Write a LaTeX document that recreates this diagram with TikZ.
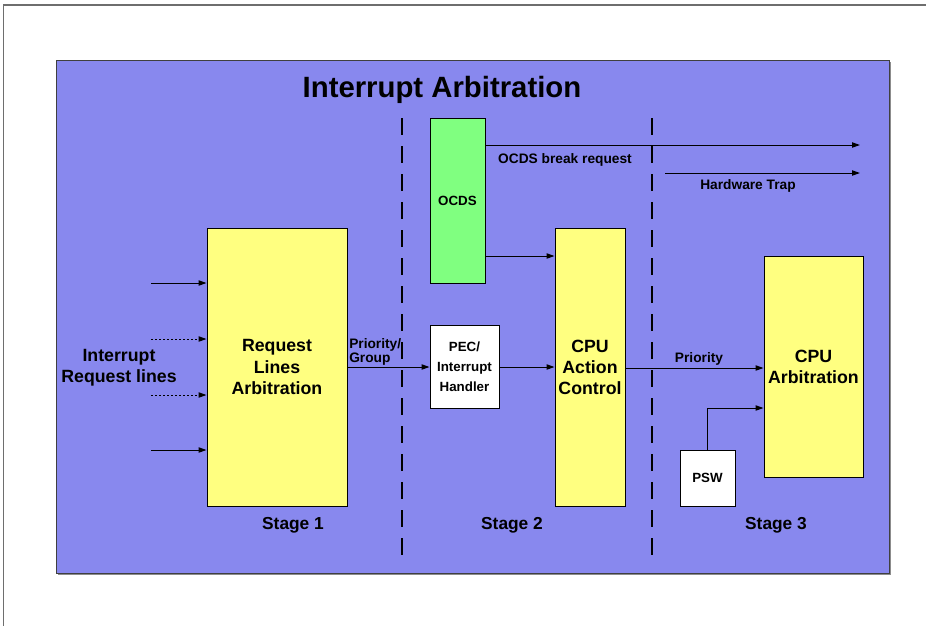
\documentclass[tikz,border=0pt]{standalone}
\usepackage{fontspec}
\setmainfont{Liberation Sans}
\usetikzlibrary{arrows.meta}
\definecolor{panelblue}{RGB}{136,136,238}
\definecolor{boxyellow}{RGB}{255,255,128}
\definecolor{boxgreen}{RGB}{128,255,128}
\definecolor{frameline}{RGB}{110,110,110}
\tikzset{
  blk/.style={draw=black, line width=0.75pt, inner sep=0pt, align=center, font=\bfseries},
  bigtxt/.style={font=\fontsize{13.3}{15.8}\selectfont\bfseries},
  smalltxt/.style={font=\fontsize{10}{15}\selectfont\bfseries},
  lbl/.style={inner sep=0pt, font=\fontsize{10.3}{10.5}\selectfont\bfseries},
  stagetxt/.style={inner sep=0pt, font=\fontsize{13}{15}\selectfont\bfseries},
  arr/.style={draw=black, line width=0.75pt, -{Triangle[length=6pt,width=4pt]}},
  stagesep/.style={draw=black, line width=1.6pt, dash pattern=on 12.75pt off 8.25pt},
}
\begin{document}
\begin{tikzpicture}[x=0.75pt,y=-0.75pt]
\useasboundingbox (0,0) rectangle (926,626);
% outer page frame
\draw[frameline, line width=1.5pt] (3,4.5) -- (926,4.5);
\draw[frameline, line width=0.75pt] (3,4.5) -- (3,626);
% panel with a faint shadow
\fill[black!45] (58,62) rectangle (891,575);
\draw[fill=panelblue, draw=black!75, line width=0.75pt] (56,60) rectangle (889,573);
\node[inner sep=0pt, font=\fontsize{22}{26}\selectfont\bfseries] (title) at (442,90) {Interrupt Arbitration};
% stage separators
\draw[stagesep] (402,118) -- (402,563);
\draw[stagesep] (652,118) -- (652,563);
% blocks
\node[blk, bigtxt, fill=boxyellow, minimum width=140*0.75pt, minimum height=278*0.75pt] (rla) at (277,367) {Request\\Lines\\Arbitration};
\node[blk, smalltxt, fill=white, minimum width=69*0.75pt, minimum height=83*0.75pt] (pec) at (464.5,367) {PEC/\\Interrupt\\Handler};
\node[blk, smalltxt, fill=boxgreen, minimum width=55*0.75pt, minimum height=165*0.75pt] (ocds) at (457.5,200.5) {OCDS};
\node[blk, bigtxt, fill=boxyellow, minimum width=70*0.75pt, minimum height=278*0.75pt] (cac) at (590,367) {CPU\\Action\\Control};
\node[blk, bigtxt, fill=boxyellow, minimum width=99*0.75pt, minimum height=221*0.75pt] (carb) at (813.5,366.5) {CPU\\Arbitration};
\node[blk, smalltxt, fill=white, minimum width=55*0.75pt, minimum height=56*0.75pt] (psw) at (707.5,478) {PSW};
% left inputs
\node[bigtxt, inner sep=0pt, align=center] (irl) at (119,367.5) {Interrupt\\Request lines};
\coordinate (in1) at (151,283);
\coordinate (in2) at (151,339);
\coordinate (in3) at (151,395);
\coordinate (in4) at (151,450);
\draw[arr] (in1) -- (in1 -| rla.west);
\draw[arr, dash pattern=on 1.5pt off 1.5pt] (in2) -- (in2 -| rla.west);
\draw[arr, dash pattern=on 1.5pt off 1.5pt] (in3) -- (in3 -| rla.west);
\draw[arr] (in4) -- (in4 -| rla.west);
% main path
\draw[arr] (rla.east) -- (pec.west);
\node[lbl, align=left, anchor=west] (pg) at (349,352) {Priority/\\Group};
\draw[arr] (pec.east) -- (cac.west);
\coordinate (oy) at (0,256);
\draw[arr] (ocds.east |- oy) -- (cac.west |- oy);
\coordinate (prio) at (0,368);
\draw[arr] (cac.east |- prio) -- (carb.west |- prio);
\node[lbl] (priolbl) at (699,359) {Priority};
\coordinate (pswy) at (0,408);
\draw[arr] (psw.north) |- (carb.west |- pswy);
% outgoing requests
\coordinate (brk) at (860,145);
\draw[arr] (ocds.east |- brk) -- (brk);
\node[lbl] (brklbl) at (565,160) {OCDS break request};
\coordinate (hwA) at (665,173);
\coordinate (hwB) at (860,173);
\draw[arr] (hwA) -- (hwB);
\node[lbl] (hwlbl) at (748,185.5) {Hardware Trap};
% stage labels
\node[stagetxt] (s1) at (293,525) {Stage 1};
\node[stagetxt] (s2) at (512,525) {Stage 2};
\node[stagetxt] (s3) at (776,525) {Stage 3};
\end{tikzpicture}
\end{document}
